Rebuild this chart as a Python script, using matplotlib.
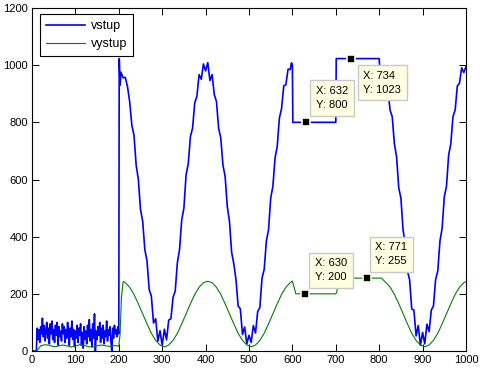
import matplotlib
matplotlib.use("Agg")
import matplotlib.pyplot as plt

plt.rcParams['font.family'] = ['Liberation Sans', 'DejaVu Sans']

# ---- data ----
vstup_x_base = list(range(0, 201, 2))
vstup_y_base = [0, 0, 0, 0, 0, 0,
                80, 40, 75, 30, 85, 60, 115, 50, 90, 35,
                70, 100, 45, 80, 25, 95, 60, 105, 40, 75,
                30, 90, 55, 100, 20, 85, 50, 70, 35, 95,
                60, 85, 30, 75, 45, 100, 65, 20, 80, 50,
                105, 40, 75, 15, 70, 45, 90, 30, 80, 55,
                95, 20, 65, 10, 85, 40, 70, 25, 90, 50,
                110, 35, 75, 15, 95, 45, 130, 0, 70, 40,
                85, 55, 100, 30, 80, 45, 90, 25, 70, 50,
                105, 35, 75, 55, 85, 30, 0, 80, 45, 90,
                60, 75, 50, 85, 60]

vstup_x_mid = [201, 203] + list(range(205, 600, 5)) + [598, 600, 601, 700, 701, 800, 801]
vstup_y_mid = [1023, 930,
               975, 956, 957, 925, 873, 790, 755, 650, 601, 495,
               454, 355, 315, 215, 192, 98, 113, 34, 71, 20,
               76, 39, 108, 113, 187, 210, 310, 355, 459, 500,
               616, 655, 750, 780, 868, 892, 967, 951, 1004, 980,
               1009, 946, 967, 897, 873, 780, 745, 650, 611, 505,
               454, 345, 305, 250, 157, 148, 58, 84, 25, 55,
               30, 89, 63, 138, 152, 255, 285, 385, 424, 535,
               576, 675, 715, 815, 848, 927, 932, 986, 985,
               1008, 1000, 800, 800, 1023, 1023, 995]

vstup_x_end = list(range(805, 1001, 5))
vstup_y_end = [979, 986, 927, 917, 843, 820, 725, 680, 571, 535,
               424, 375, 280, 250, 147, 143, 53, 89, 20, 65,
               25, 94, 68, 143, 157, 250, 280, 385, 429, 540,
               576, 685, 725, 820, 843, 927, 937, 991, 974, 995]

vystup_x = ([0, 11, 15] + list(range(20, 201, 10)) + [203, 206, 210]
            + list(range(215, 600, 10)) + [600, 603, 608, 700, 702, 706, 710, 805]
            + list(range(815, 1000, 10)) + [1000])
vystup_y = ([0, 0, 8, 18, 22, 20, 15, 17, 21, 18, 14, 17, 22, 20, 15, 14, 18, 21, 18, 16, 19, 17,
             60, 185, 243]
            + [239, 223, 198, 165, 130, 95, 62, 37, 21, 14,
               21, 37, 62, 95, 130, 165, 198, 223, 239, 244,
               239, 223, 198, 165, 130, 95, 62, 37, 21, 15,
               21, 37, 62, 95, 130, 165, 198, 223, 239]
            + [245, 228, 200, 200, 205, 238, 255, 255]
            + [240, 224, 198, 166, 131, 95, 62, 37, 21, 15,
               21, 37, 62, 95, 130, 165, 198, 223, 239]
            + [243])

vstup_x = vstup_x_base + vstup_x_mid + vstup_x_end
vstup_y = vstup_y_base + vstup_y_mid + vstup_y_end

# data tips: (x, y) and box left / centre-y in data units
tips_x = [632, 734, 630, 771]
tips_y = [800, 1023, 200, 255]
box_lx = [654, 763, 652, 791]
box_cy = [885, 938, 282, 339]

xticks = list(range(0, 1001, 100))
yticks = list(range(0, 1201, 200))

# ---- figure ----
fig = plt.figure(figsize=(4.81, 3.72), dpi=100)
ax = fig.add_axes([32/481, 21/372, 434/481, 343/372])

ax.plot(vstup_x, vstup_y, color='#0000FF', lw=1.2, label='vstup')
ax.plot(vystup_x, vystup_y, color='#008000', lw=0.8, label='vystup')

for tx, ty, bx, by in zip(tips_x, tips_y, box_lx, box_cy):
    ax.text(bx, by, f"X: {tx}\nY: {ty}", ha='left', va='center', fontsize=8,
            linespacing=1.5, zorder=5,
            bbox=dict(boxstyle='square,pad=0.5', fc='#FFFFE1', ec='#C8C8C8', lw=1.0))
    ax.plot([tx], [ty], marker='s', ms=6, color='black', mec='#FFFFE1', mew=1.2, zorder=6)

ax.set_xlim(0, 1000)
ax.set_ylim(0, 1200)
ax.set_xticks(xticks)
ax.set_yticks(yticks)
ax.tick_params(direction='in', top=True, right=True, length=5, width=0.7,
               labelsize=8, pad=3)
for s in ax.spines.values():
    s.set_linewidth(0.8)

leg = ax.legend(loc='upper left', bbox_to_anchor=(0.0184, 0.9825), borderaxespad=0,
                fancybox=False, edgecolor='black', framealpha=1, fontsize=9,
                handlelength=3.1, borderpad=0.5, labelspacing=0.45, handletextpad=0.45)
leg.get_frame().set_linewidth(0.8)

fig.savefig('out.png', dpi=100, facecolor='white')
